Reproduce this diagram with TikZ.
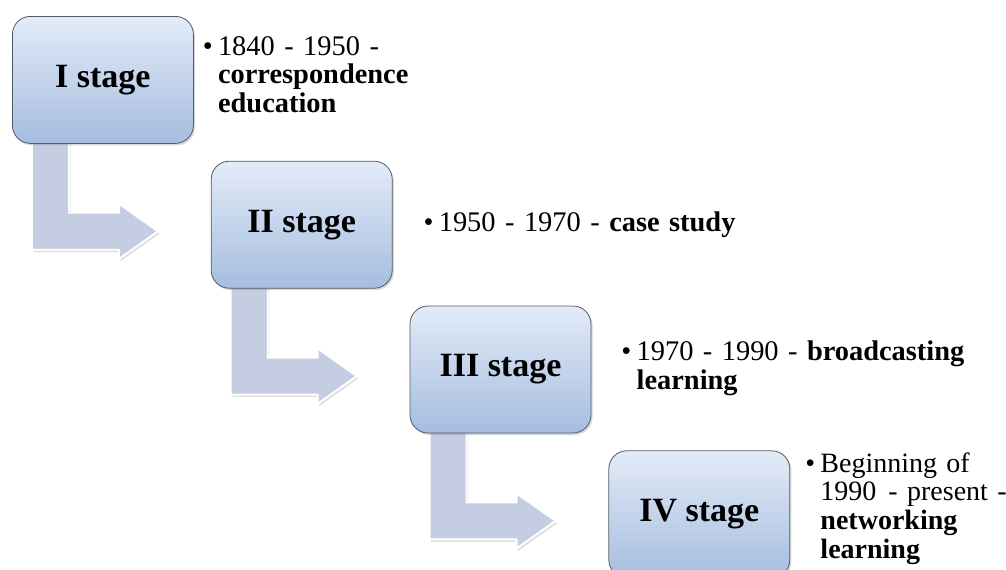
\documentclass[tikz,border=0pt]{standalone}
\usepackage{fontspec}
\setmainfont{Liberation Serif}
\usetikzlibrary{positioning,calc,shadows,backgrounds}

\definecolor{boxtop}{RGB}{227,235,247}
\definecolor{boxbot}{RGB}{165,189,224}
\definecolor{boxline}{RGB}{84,90,102}
\definecolor{arrowfill}{RGB}{196,205,226}

\begin{document}
\begin{tikzpicture}[
  x=0.75pt, y=-0.75pt,
  stagebox/.style={rectangle, rounded corners=13.5pt, draw=boxline, line width=0.6pt,
    top color=boxtop, bottom color=boxbot, inner sep=0pt,
    minimum width=135.75pt, minimum height=95.25pt,
    font=\fontsize{25.5pt}{28pt}\selectfont\bfseries,
    drop shadow={shadow xshift=1.2pt, shadow yshift=-1.5pt, opacity=0.3}},
  info/.style={anchor=base west, align=left, inner sep=0pt, text width=200pt,
    font=\fontsize{21.3pt}{21.4pt}\selectfont},
  bentarrow/.style={fill=arrowfill, draw=white, line width=1.4pt, line join=miter,
    drop shadow={shadow xshift=1.2pt, shadow yshift=-1.8pt, opacity=0.25}}
]
  \useasboundingbox (0,0) rectangle (1006,569);
  \newcommand{\dotmark}{\llap{\textbullet\hspace{4pt}}}

  % stage boxes
  \node[stagebox, anchor=north west] (box1) at (12,16) {I stage};
  \node[stagebox, below right=12.75pt and 12.75pt of box1] (box2) {II stage};
  \node[stagebox, below right=12.75pt and 12.75pt of box2] (box3) {III stage};
  \node[stagebox, below right=12.75pt and 12.75pt of box3] (box4) {IV stage};

  % bent arrows, behind the boxes
  \begin{scope}[on background layer]
  \foreach \b in {box1,box2,box3}{
    \draw[bentarrow] ($(\b.south west)+(20,-4)$) -- ($(\b.south west)+(57,-4)$)
      -- ($(\b.south west)+(57,69)$) -- ($(\b.south west)+(107,69)$)
      -- ($(\b.south west)+(107,60)$) -- ($(\b.south west)+(146,87.5)$)
      -- ($(\b.south west)+(107,115)$) -- ($(\b.south west)+(107,106)$)
      -- ($(\b.south west)+(20,106)$) -- cycle;
  }
  \end{scope}

  % periods
  \node[info] (t1) at ($(box1.north east)+(24,39)$)
    {\dotmark 1840 - 1950 -\\\textbf{correspondence}\\\textbf{education}};
  \node[info, text width=300pt] (t2) at ($(box2.north east)+(46,71)$)
    {\dotmark 1950 - 1970 - \textbf{case study}};
  \node[info, text width=300pt] (t3) at ($(box3.north east)+(45,55)$)
    {\dotmark 1970 - 1990 - \textbf{broadcasting}\\\textbf{learning}};
  \node[info, font=\fontsize{21pt}{21.4pt}\selectfont] (t4) at ($(box4.north east)+(30,22)$)
    {\dotmark Beginning of\\1990\hspace{2pt} - present -\\\textbf{networking}\\\textbf{learning}};
\end{tikzpicture}
\end{document}
